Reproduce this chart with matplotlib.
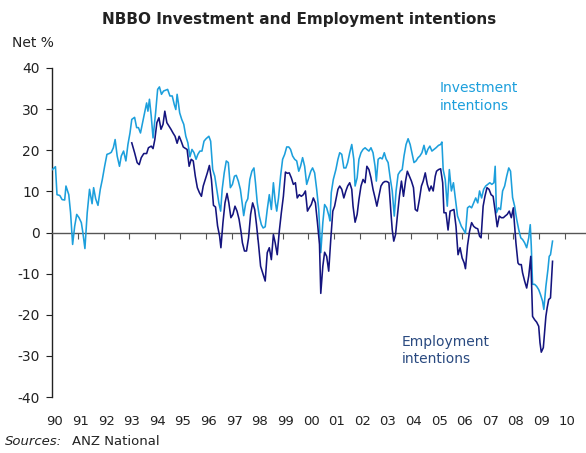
"""
NBBO investment and employment intentions, net %
"""

import matplotlib
matplotlib.use('Agg')
import matplotlib.pyplot as plt
from matplotlib.transforms import blended_transform_factory

# Investment intentions (decimal year, net %)
inv_years = [
    1990.00, 1990.12, 1990.18, 1990.29, 1990.38, 1990.48, 1990.53, 1990.64, 1990.71, 1990.79,
    1990.87, 1990.95, 1991.04, 1991.13, 1991.19, 1991.27, 1991.36, 1991.45, 1991.55, 1991.61,
    1991.69, 1991.78, 1991.87, 1991.95, 1992.04, 1992.13, 1992.22, 1992.30, 1992.38, 1992.45,
    1992.53, 1992.62, 1992.69, 1992.78, 1992.87, 1992.95, 1993.03, 1993.10, 1993.21, 1993.29,
    1993.36, 1993.44, 1993.52, 1993.60, 1993.68, 1993.73, 1993.79, 1993.86, 1993.93, 1994.03,
    1994.11, 1994.18, 1994.26, 1994.34, 1994.42, 1994.50, 1994.59, 1994.68, 1994.76, 1994.82,
    1994.87, 1994.92, 1994.97, 1995.05, 1995.13, 1995.21, 1995.29, 1995.37, 1995.45, 1995.53,
    1995.61, 1995.68, 1995.76, 1995.84, 1995.92, 1996.00, 1996.11, 1996.18, 1996.26, 1996.34,
    1996.42, 1996.50, 1996.57, 1996.63, 1996.71, 1996.79, 1996.87, 1996.95, 1997.03, 1997.11,
    1997.18, 1997.26, 1997.34, 1997.41, 1997.47, 1997.55, 1997.63, 1997.71, 1997.79, 1997.87,
    1997.93, 1998.00, 1998.08, 1998.16, 1998.23, 1998.31, 1998.39, 1998.47, 1998.55, 1998.63,
    1998.70, 1998.76, 1998.83, 1998.91, 1998.99, 1999.07, 1999.15, 1999.23, 1999.30, 1999.38,
    1999.46, 1999.54, 1999.62, 1999.69, 1999.77, 1999.85, 1999.93, 2000.01, 2000.09, 2000.16,
    2000.24, 2000.32, 2000.40, 2000.48, 2000.56, 2000.63, 2000.71, 2000.80, 2000.84, 2000.89,
    2000.97, 2001.07, 2001.15, 2001.22, 2001.30, 2001.38, 2001.46, 2001.53, 2001.61, 2001.69,
    2001.77, 2001.82, 2001.90, 2001.97, 2002.05, 2002.13, 2002.21, 2002.28, 2002.36, 2002.44,
    2002.52, 2002.60, 2002.65, 2002.72, 2002.80, 2002.88, 2002.96, 2003.03, 2003.11, 2003.19,
    2003.27, 2003.35, 2003.42, 2003.50, 2003.58, 2003.66, 2003.73, 2003.81, 2003.89, 2003.97,
    2004.04, 2004.12, 2004.20, 2004.28, 2004.35, 2004.43, 2004.51, 2004.59, 2004.66, 2004.74,
    2004.82, 2004.90, 2004.98, 2005.08, 2005.16, 2005.21, 2005.26, 2005.34, 2005.42, 2005.50,
    2005.58, 2005.66, 2005.74, 2005.82, 2005.89, 2005.97, 2006.05, 2006.13, 2006.21, 2006.29,
    2006.37, 2006.45, 2006.53, 2006.61, 2006.68, 2006.76, 2006.84, 2006.92, 2007.00, 2007.08,
    2007.16, 2007.24, 2007.29, 2007.34, 2007.42, 2007.50, 2007.58, 2007.66, 2007.74, 2007.82,
    2007.89, 2007.97, 2008.05, 2008.13, 2008.21, 2008.29, 2008.36, 2008.44, 2008.52, 2008.60,
    2008.66, 2008.70, 2008.75, 2008.83, 2008.91, 2008.99, 2009.06, 2009.14, 2009.19, 2009.27,
    2009.35, 2009.40, 2009.45, 2009.53,
]
inv_values = [
    15.3, 16.0, 9.2, 9.0, 8.0, 7.9, 11.3, 9.2, 4.8, -2.9,
    1.5, 4.4, 3.6, 2.4, 0.0, -3.9, 4.8, 10.5, 7.0, 10.9,
    8.2, 6.6, 10.5, 12.9, 16.1, 19.0, 19.2, 19.5, 20.6, 22.6,
    18.6, 16.1, 18.6, 19.8, 17.4, 21.4, 24.2, 27.5, 28.0, 25.5,
    25.5, 24.2, 26.7, 29.1, 31.5, 29.5, 32.4, 28.3, 23.0, 29.1,
    34.8, 35.4, 33.6, 34.4, 34.6, 34.8, 33.2, 33.2, 31.1, 29.9,
    33.6, 31.5, 29.1, 27.5, 26.3, 23.4, 21.8, 18.4, 20.2, 19.4,
    17.8, 19.0, 19.8, 19.8, 22.2, 22.8, 23.4, 22.2, 15.3, 13.7,
    10.5, 7.2, 5.2, 10.5, 14.5, 17.4, 17.0, 10.9, 11.7, 13.7,
    13.9, 12.5, 10.5, 7.2, 4.1, 7.2, 8.2, 12.9, 14.9, 15.7,
    12.1, 7.2, 4.0, 1.9, 1.1, 1.4, 5.6, 9.2, 5.6, 12.1,
    7.6, 5.2, 8.4, 13.7, 17.8, 19.0, 20.8, 20.8, 20.2, 18.6,
    17.8, 17.4, 14.9, 16.1, 18.2, 16.1, 11.7, 13.3, 14.9, 15.7,
    14.5, 10.5, 5.6, -4.9, 2.4, 6.8, 6.0, 4.0, 2.8, 9.7,
    12.9, 15.3, 17.8, 19.4, 19.0, 15.7, 15.7, 17.0, 19.4, 21.4,
    17.8, 11.3, 13.3, 17.8, 19.4, 20.2, 20.6, 20.2, 19.8, 20.6,
    19.4, 16.1, 12.5, 17.8, 18.2, 17.9, 19.4, 17.9, 17.0, 13.3,
    10.1, 4.0, 10.1, 14.1, 14.9, 15.3, 18.6, 21.4, 22.8, 21.4,
    19.4, 17.0, 17.4, 18.2, 18.6, 19.4, 21.2, 19.0, 20.2, 21.0,
    19.8, 20.2, 20.6, 21.2, 21.4, 22.0, 15.3, 12.9, 6.4, 15.3,
    10.1, 12.1, 8.0, 4.0, 2.8, 1.5, 0.7, -0.2, 6.0, 6.4,
    6.0, 7.2, 8.4, 7.2, 10.1, 8.4, 10.5, 11.3, 11.7, 12.1,
    11.7, 12.1, 16.1, 4.8, 6.0, 5.6, 10.1, 11.3, 13.7, 15.7,
    14.9, 8.5, 6.4, 3.2, 0.7, -1.3, -1.7, -2.5, -3.7, -1.3,
    1.9, -3.3, -12.6, -12.6, -13.1, -13.9, -15.1, -16.7, -18.7, -13.1,
    -9.0, -5.8, -5.4, -2.1,
]

# Employment intentions (decimal year, net %)
emp_years = [
    1993.10, 1993.21, 1993.31, 1993.39, 1993.47, 1993.57, 1993.68, 1993.75, 1993.86, 1993.93,
    1994.00, 1994.08, 1994.16, 1994.24, 1994.32, 1994.39, 1994.47, 1994.55, 1994.63, 1994.71,
    1994.79, 1994.87, 1994.95, 1995.03, 1995.11, 1995.18, 1995.26, 1995.34, 1995.42, 1995.50,
    1995.58, 1995.66, 1995.74, 1995.82, 1995.89, 1995.97, 1996.05, 1996.13, 1996.21, 1996.29,
    1996.37, 1996.45, 1996.53, 1996.58, 1996.66, 1996.74, 1996.82, 1996.89, 1996.97, 1997.05,
    1997.13, 1997.21, 1997.29, 1997.37, 1997.42, 1997.50, 1997.58, 1997.66, 1997.74, 1997.82,
    1997.90, 1997.97, 1998.05, 1998.13, 1998.21, 1998.31, 1998.39, 1998.47, 1998.55, 1998.63,
    1998.70, 1998.78, 1998.86, 1998.94, 1999.02, 1999.10, 1999.17, 1999.25, 1999.33, 1999.41,
    1999.49, 1999.56, 1999.64, 1999.72, 1999.80, 1999.88, 1999.96, 2000.03, 2000.11, 2000.19,
    2000.27, 2000.35, 2000.43, 2000.48, 2000.56, 2000.63, 2000.71, 2000.79, 2000.87, 2000.95,
    2001.02, 2001.15, 2001.22, 2001.30, 2001.38, 2001.46, 2001.53, 2001.61, 2001.69, 2001.74,
    2001.82, 2001.90, 2001.97, 2002.05, 2002.13, 2002.21, 2002.28, 2002.36, 2002.44, 2002.52,
    2002.60, 2002.67, 2002.75, 2002.83, 2002.91, 2002.98, 2003.06, 2003.14, 2003.22, 2003.27,
    2003.33, 2003.40, 2003.47, 2003.55, 2003.63, 2003.71, 2003.79, 2003.86, 2003.94, 2004.02,
    2004.10, 2004.17, 2004.25, 2004.33, 2004.41, 2004.48, 2004.56, 2004.64, 2004.72, 2004.79,
    2004.87, 2004.95, 2005.00, 2005.08, 2005.16, 2005.24, 2005.29, 2005.37, 2005.45, 2005.53,
    2005.61, 2005.68, 2005.76, 2005.84, 2005.92, 2006.00, 2006.08, 2006.13, 2006.21, 2006.29,
    2006.37, 2006.45, 2006.53, 2006.61, 2006.68, 2006.74, 2006.82, 2006.89, 2006.97, 2007.05,
    2007.13, 2007.21, 2007.29, 2007.37, 2007.45, 2007.53, 2007.61, 2007.68, 2007.76, 2007.84,
    2007.92, 2008.00, 2008.03, 2008.10, 2008.18, 2008.23, 2008.31, 2008.36, 2008.44, 2008.52,
    2008.60, 2008.68, 2008.75, 2008.83, 2008.91, 2008.99, 2009.04, 2009.09, 2009.17, 2009.22,
    2009.27, 2009.32, 2009.38, 2009.45, 2009.53,
]
emp_values = [
    21.8, 19.4, 17.0, 16.5, 18.2, 19.2, 19.2, 20.6, 21.0, 20.4,
    22.6, 26.7, 27.9, 25.1, 26.3, 29.5, 26.7, 25.9, 25.1, 24.2,
    23.4, 21.7, 23.4, 22.2, 20.8, 20.5, 20.2, 16.1, 17.8, 17.4,
    13.7, 10.9, 9.7, 8.8, 11.3, 12.9, 14.5, 16.3, 12.9, 6.6,
    6.2, 1.6, -0.9, -3.7, 2.4, 7.2, 9.5, 7.2, 3.6, 4.4,
    6.4, 5.2, 3.2, 0.0, -2.5, -4.5, -4.5, -1.3, 4.4, 7.2,
    5.6, 1.9, -2.9, -8.2, -9.8, -11.8, -4.9, -3.7, -6.6, -0.5,
    -2.5, -5.4, 0.3, 4.8, 8.8, 14.7, 14.4, 14.5, 13.3, 11.7,
    12.1, 8.4, 9.2, 8.8, 9.2, 10.1, 5.2, 6.0, 6.8, 8.4,
    7.2, 2.4, -2.9, -14.8, -8.2, -4.8, -5.8, -9.4, -1.7, 5.2,
    6.4, 10.5, 11.3, 10.5, 8.4, 10.1, 11.3, 12.1, 10.5, 6.4,
    2.5, 4.4, 8.0, 11.3, 12.9, 12.1, 16.1, 15.3, 13.3, 10.5,
    8.4, 6.4, 8.8, 11.3, 12.1, 12.4, 12.4, 12.1, 4.8, 0.7,
    -2.1, -0.5, 4.0, 8.8, 12.5, 8.8, 12.5, 14.9, 13.7, 12.5,
    10.9, 5.6, 5.2, 8.0, 11.3, 12.5, 14.5, 11.7, 10.1, 11.3,
    10.1, 13.7, 14.9, 15.3, 15.5, 12.1, 4.8, 4.8, 0.6, 5.2,
    5.4, 5.6, 1.5, -5.4, -3.7, -6.2, -7.4, -8.8, -3.2, 0.3,
    2.4, 1.5, 1.1, 0.9, -0.9, -1.3, 6.4, 8.8, 10.9, 10.5,
    9.2, 8.8, 5.2, 1.4, 4.0, 3.6, 3.6, 4.0, 4.4, 5.2,
    3.6, 6.0, 3.2, -2.5, -7.4, -7.8, -7.8, -9.8, -11.8, -13.5,
    -10.6, -5.8, -20.4, -21.2, -21.8, -22.8, -26.8, -29.1, -28.0, -24.3,
    -20.4, -18.3, -16.3, -15.9, -7.0,
]

year_ticks = list(range(1990, 2011))
year_labels = ['%02d' % (y % 100) for y in year_ticks]
y_ticks = [40, 30, 20, 10, 0, -10, -20, -30, -40]

inv_color = '#1c9fdc'
emp_color = '#14147e'
text_color = '#222222'

plt.rcParams['font.family'] = ['DejaVu Sans']

fig = plt.figure(figsize=(5.86, 4.53), dpi=100)
ax = fig.add_axes([0.0894, 0.1236, 0.909, 0.7263])

ax.plot(inv_years, inv_values, color=inv_color, lw=1.15, zorder=3)
ax.plot(emp_years, emp_values, color=emp_color, lw=1.15, zorder=4)

ax.set_xlim(1990, 2010.8)
ax.set_ylim(-40, 40)

# zero line acts as the x axis, ticks hanging down from it
for s in ['top', 'right']:
    ax.spines[s].set_visible(False)
ax.spines['bottom'].set_position(('data', 0))
ax.spines['bottom'].set_color('#555555')
ax.spines['bottom'].set_linewidth(1.0)
ax.spines['left'].set_color('#222222')
ax.spines['left'].set_linewidth(1.0)
ax.set_xticks(year_ticks)
ax.tick_params(axis='x', direction='out', length=4, color='#555555',
               labelbottom=False)
ax.set_yticks(y_ticks)
ax.set_yticklabels([str(v) for v in y_ticks])
ax.tick_params(axis='y', direction='out', length=4, color='#222222',
               labelsize=10, labelcolor=text_color, pad=5)

# year labels along the bottom
trans = blended_transform_factory(ax.transData, ax.transAxes)
for yr, lab in zip(year_ticks, year_labels):
    ax.text(yr + 0.1, -0.075, lab, transform=trans, ha='center', va='center',
            fontsize=9.5, color=text_color)

fig.text(0.51, 0.957, 'NBBO Investment and Employment intentions',
         ha='center', va='center', fontsize=11, fontweight='bold',
         color=text_color)
fig.text(0.02, 0.905, 'Net %', ha='left', va='center', fontsize=10,
         color=text_color)
fig.text(0.008, 0.026, 'Sources:', ha='left', va='center', fontsize=9.5,
         style='italic', color=text_color)
fig.text(0.123, 0.026, 'ANZ National', ha='left', va='center', fontsize=9.5,
         color=text_color)

ax.text(2005.12, 33.0, 'Investment\nintentions', color=inv_color,
        fontsize=10, ha='left', va='center', linespacing=1.35)
ax.text(2003.65, -28.7, 'Employment\nintentions', color='#2a4a80',
        fontsize=10, ha='left', va='center', linespacing=1.35)

fig.savefig('out.png', dpi=100)
